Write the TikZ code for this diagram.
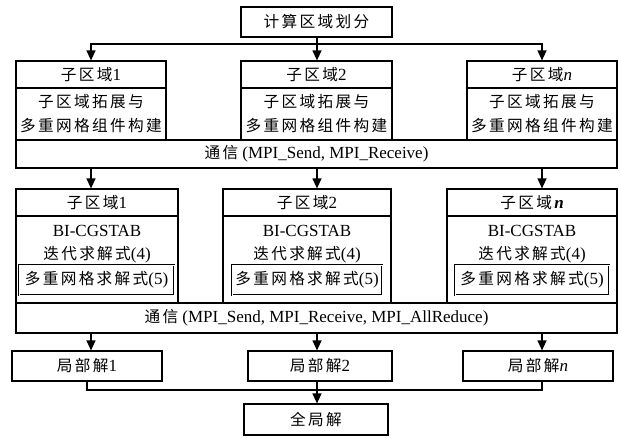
\documentclass[tikz,border=0pt]{standalone}
\usepackage{fontspec}
\setmainfont{Liberation Serif}
\newfontfamily\cjk[Scale=0.92,LetterSpace=15]{Noto Sans CJK SC}
\usetikzlibrary{arrows.meta}
\begin{document}
\begin{tikzpicture}[x=1pt,y=-1pt,
  box/.style={draw, line width=1.2pt, inner sep=0pt, align=center,
    font=\fontsize{17}{24}\selectfont},
  plain/.style={inner sep=0pt, align=center, font=\fontsize{17}{24}\selectfont},
  dbox/.style={draw, double, double distance=1pt, line width=0.7pt, inner sep=0pt,
    align=center, font=\fontsize{17}{24}\selectfont},
  ln/.style={line width=1.2pt},
  arr/.style={line width=1.2pt, -{Triangle[length=10pt,width=9pt]}}]
\useasboundingbox (0,0) rectangle (621,437);
\coordinate (X1) at (91,0);
\coordinate (X2) at (317,0);
\coordinate (X3) at (542,0);
% top
\node[box, minimum width=151pt, minimum height=30pt] (top) at (316.5,22) {{\cjk 计算区域划分}};
\coordinate (split) at (317,44);
% row 1
\node[box, minimum width=150pt, minimum height=27pt] (h1) at (91,74.5) {{\cjk 子区域}1};
\node[box, minimum width=151pt, minimum height=27pt] (h2) at (316.5,74.5) {{\cjk 子区域}2};
\node[box, minimum width=150pt, minimum height=27pt] (h3) at (542,74.5) {{\cjk 子区域}\textit{n}};
\node[box, minimum width=150pt, minimum height=52pt] (b1) at (91,114) {{\cjk 子区域拓展与}\\{\cjk 多重网格组件构建}};
\node[box, minimum width=151pt, minimum height=52pt] (b2) at (316.5,114) {{\cjk 子区域拓展与}\\{\cjk 多重网格组件构建}};
\node[box, minimum width=150pt, minimum height=52pt] (b3) at (542,114) {{\cjk 子区域拓展与}\\{\cjk 多重网格组件构建}};
\node[box, minimum width=601pt, minimum height=28pt] (comm1) at (316.5,154) {{\cjk 通信} (MPI\_Send, MPI\_Receive)};
% row 2
\node[box, minimum width=162pt, minimum height=27pt] (r1) at (97,202.5) {{\cjk 子区域}1};
\node[box, minimum width=168pt, minimum height=27pt] (r2) at (307,202.5) {{\cjk 子区域}2};
\node[box, minimum width=170pt, minimum height=27pt] (r3) at (532,202.5) {{\cjk 子区域}\textbf{\textit{n}}};
\node[box, minimum width=162pt, minimum height=87pt] (s1) at (97,259.5) {};
\node[box, minimum width=168pt, minimum height=87pt] (s2) at (307,259.5) {};
\node[box, minimum width=170pt, minimum height=87pt] (s3) at (532,259.5) {};
\node[plain] (t1a) at (97,231) {BI-CGSTAB};
\node[plain] (t2a) at (307,231) {BI-CGSTAB};
\node[plain] (t3a) at (532,231) {BI-CGSTAB};
\node[plain] (t1b) at (97,255) {{\cjk 迭代求解式}(4)};
\node[plain] (t2b) at (307,255) {{\cjk 迭代求解式}(4)};
\node[plain] (t3b) at (532,255) {{\cjk 迭代求解式}(4)};
\node[dbox, minimum width=155pt, minimum height=30pt] (m1) at (96.5,280) {{\cjk 多重网格求解式}(5)};
\node[dbox, minimum width=150pt, minimum height=30pt] (m2) at (307,280) {{\cjk 多重网格求解式}(5)};
\node[dbox, minimum width=154pt, minimum height=30pt] (m3) at (532,280) {{\cjk 多重网格求解式}(5)};
\node[box, minimum width=601pt, minimum height=30pt] (comm2) at (316.5,318) {{\cjk 通信} (MPI\_Send, MPI\_Receive, MPI\_AllReduce)};
% local
\node[box, minimum width=150pt, minimum height=30pt] (l1) at (87,366) {{\cjk 局部解}1};
\node[box, minimum width=144pt, minimum height=30pt] (l2) at (320,366) {{\cjk 局部解}2};
\node[box, minimum width=150pt, minimum height=30pt] (l3) at (538,366) {{\cjk 局部解}\textit{n}};
\node[box, minimum width=144pt, minimum height=31pt] (glob) at (316,419.5) {{\cjk 全局解}};
\coordinate (merge) at (317,390);
% connectors
\draw[ln] (top.south -| X2) -- (split);
\draw[arr] (split) -| (h1.north -| X1);
\draw[arr] (split) -- (h2.north -| X2);
\draw[arr] (split) -| (h3.north -| X3);
\draw[arr] (comm1.south -| X1) -- (r1.north -| X1);
\draw[arr] (comm1.south -| X2) -- (r2.north -| X2);
\draw[arr] (comm1.south -| X3) -- (r3.north -| X3);
\draw[arr] (comm2.south -| X1) -- (l1.north -| X1);
\draw[arr] (comm2.south -| X2) -- (l2.north -| X2);
\draw[arr] (comm2.south -| X3) -- (l3.north -| X3);
\draw[ln] (l1.south) |- (merge);
\draw[ln] (l3.south -| X3) |- (merge);
\draw[ln] (l2.south -| X2) -- (merge);
\draw[arr] (merge) -- (glob.north -| X2);
\end{tikzpicture}
\end{document}
